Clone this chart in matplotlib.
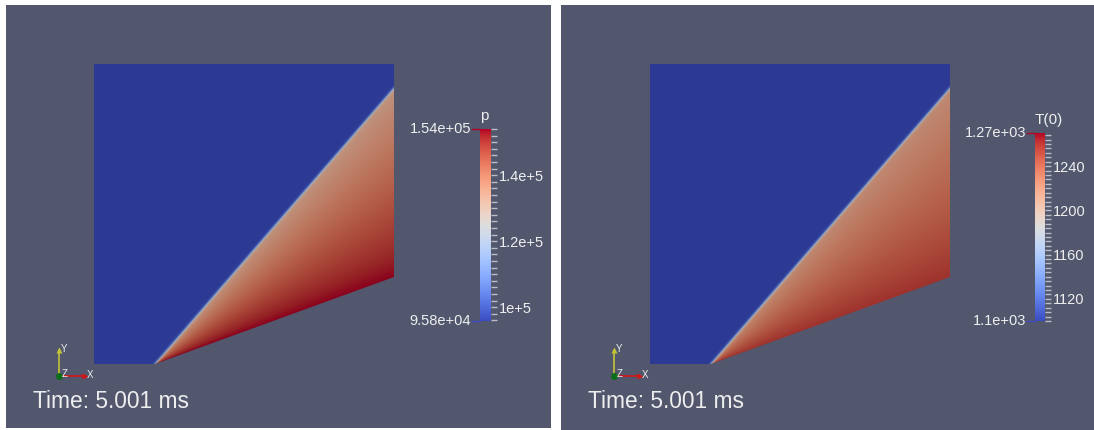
import numpy as np
import matplotlib
matplotlib.use('Agg')
import matplotlib.pyplot as plt
from matplotlib.colors import Normalize, ListedColormap
from matplotlib.cm import ScalarMappable
from matplotlib.patches import Polygon
from matplotlib.ticker import MultipleLocator

plt.rcParams['font.family'] = ['Liberation Sans', 'DejaVu Sans']

# wedge geometry, domain is the unit square
wedge_start = 0.203
wedge_angle = 20.0   # deg
shock_angle = 49.1   # deg

# freestream / just behind the shock / on the wedge wall
p_values = [9.58e4, 1.33e5, 1.54e5]
T_values = [1.1e3, 1.215e3, 1.258e3]

p_range = [9.58e4, 1.54e5]
T_range = [1.1e3, 1.27e3]
p_ticks = [1e5, 1.2e5, 1.4e5]
p_tick_labels = ['1e+5', '1.2e+5', '1.4e+5']
T_ticks = [1120, 1160, 1200, 1240]
T_tick_labels = ['1120', '1160', '1200', '1240']
p_range_labels = ['9.58e+04', '1.54e+05']
T_range_labels = ['1.1e+03', '1.27e+03']
time_label = 'Time: 5.001 ms'

W, H = 1094, 430
bg = '#52576e'
text_col = '#eeeeee'
tick_col = '#bcbcc4'

fig = plt.figure(figsize=(W / 100, H / 100), dpi=100, facecolor='white')

# render view is a bit darker than the lookup table shown in the bar
base = plt.get_cmap('coolwarm')
lut = base(np.linspace(0, 1, 256))
lut[:, :3] *= 0.77
shaded = ListedColormap(lut)


def px_axes(x, y, w, h):
    return fig.add_axes([x / W, 1 - (y + h) / H, w / W, h / H])


def wedge_field(values, n=900, width=0.004, power=0.8):
    v_inf, v_shock, v_wall = values
    g = (np.arange(n) + 0.5) / n
    x, y = np.meshgrid(g, g)
    dx = x - wedge_start
    phi = np.degrees(np.arctan2(y, dx))
    s = np.clip((shock_angle - phi) / (shock_angle - wedge_angle), 0, 1)
    post = v_shock + (v_wall - v_shock) * s ** power
    ta = np.radians(shock_angle)
    d = -dx * np.sin(ta) + y * np.cos(ta)
    w = 0.5 * (1 + np.tanh(d / width))
    return w * v_inf + (1 - w) * post


def draw_panel(px, pw, ph):
    ax = px_axes(px, 5, pw, ph)
    ax.set_facecolor(bg)
    ax.set_xlim(0, pw)
    ax.set_ylim(ph, 0)
    ax.set_xticks([])
    ax.set_yticks([])
    for sp in ax.spines.values():
        sp.set_visible(False)
    # orientation triad
    ox, oy = 53, 371
    ax.plot([ox, ox], [oy, oy - 26], color='#c4c43a', lw=1.2)
    ax.plot(ox, oy - 26, marker='^', ms=4, color='#c4c43a', mec='none')
    ax.plot([ox, ox + 26], [oy, oy], color='#d41515', lw=1.2)
    ax.plot(ox + 26, oy, marker='>', ms=4, color='#d41515', mec='none')
    ax.plot(ox, oy, marker='o', ms=5, color='#0b6e1a', mec='none')
    ax.text(ox + 2, oy - 27, 'Y', color=text_col, fontsize=7, va='center')
    ax.text(ox + 28, oy - 1, 'X', color=text_col, fontsize=7, va='center')
    ax.text(ox + 3, oy - 2, 'Z', color=text_col, fontsize=7, va='center')
    ax.text(27, 403, time_label, color=text_col, fontsize=16.4, va='baseline')
    return ax


def draw_domain(px, values, rng):
    ax = px_axes(px, 64, 300, 300)
    ax.set_axis_off()
    ax.set_xlim(0, 1)
    ax.set_ylim(0, 1)
    y_end = (1 - wedge_start) * np.tan(np.radians(wedge_angle))
    outline = Polygon([(0, 0), (wedge_start, 0), (1, y_end), (1, 1), (0, 1)],
                      closed=True, transform=ax.transData)
    im = ax.imshow(wedge_field(values), origin='lower', extent=(0, 1, 0, 1),
                   cmap=shaded, norm=Normalize(*rng), interpolation='bilinear',
                   aspect='auto')
    im.set_clip_path(outline)


def draw_colorbar(rect, rng, ticks, labels, minor, title, range_labels):
    cax = px_axes(*rect)
    cb = fig.colorbar(ScalarMappable(Normalize(*rng), base), cax=cax, ticks=ticks)
    cb.outline.set_visible(False)
    cb.ax.set_yticklabels(labels)
    cb.ax.yaxis.set_minor_locator(MultipleLocator(minor))
    cb.ax.tick_params(which='both', colors=tick_col, labelcolor=text_col,
                      length=4, width=1, labelsize=10.5, pad=2)
    cb.ax.annotate(title, (0, 1), xycoords='axes fraction', xytext=(0, 6),
                   textcoords='offset pixels', color=text_col, fontsize=11,
                   va='bottom', ha='left')
    bw = rect[2]
    for yv, lab, col in [(0, range_labels[0], base(0.0)), (1, range_labels[1], base(1.0))]:
        cb.ax.plot([-8 / bw, 0], [yv, yv], transform=cb.ax.transAxes,
                   color=col, lw=1, clip_on=False)
        cb.ax.annotate(lab, (0, yv), xycoords='axes fraction', xytext=(-9, 0),
                       textcoords='offset pixels', color=text_col, fontsize=10.5,
                       ha='right', va='center')


draw_panel(6, 545, 423)
draw_panel(561, 533, 425)

draw_domain(94, p_values, p_range)
draw_domain(650, T_values, T_range)

draw_colorbar((480, 129, 11, 192), p_range, p_ticks, p_tick_labels, 2e3, 'p', p_range_labels)
draw_colorbar((1035, 133, 10, 188), T_range, T_ticks, T_tick_labels, 4, 'T(0)', T_range_labels)

fig.savefig('out.png', dpi=100, facecolor=fig.get_facecolor())
